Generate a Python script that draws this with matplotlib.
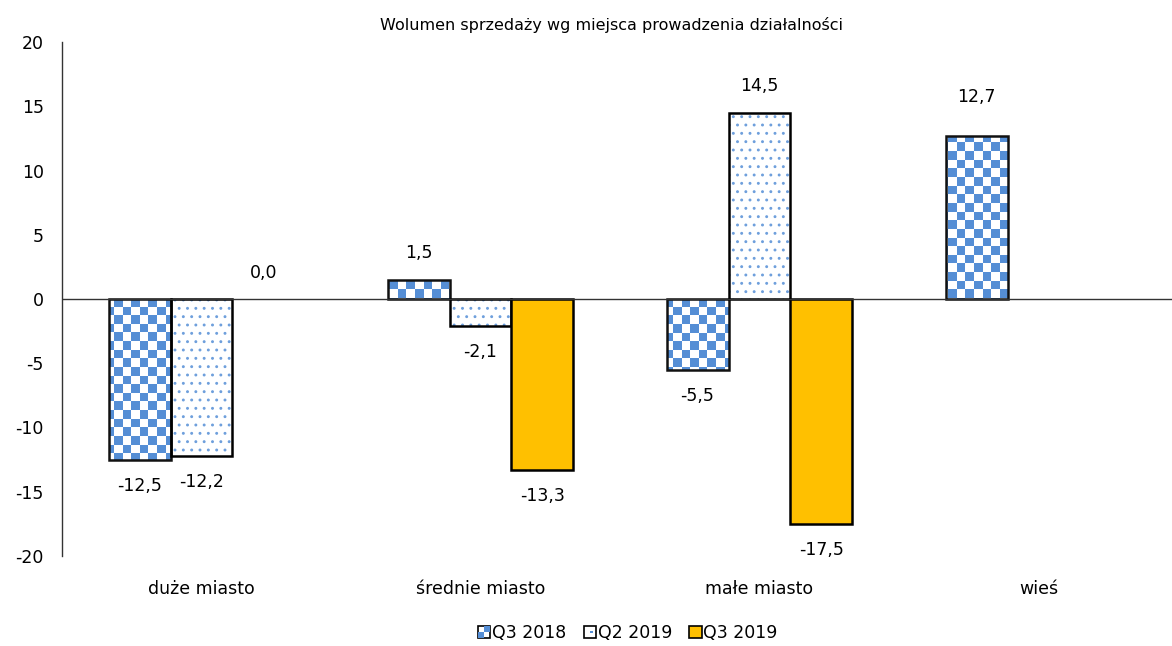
import numpy as np
import matplotlib
matplotlib.use("Agg")
import matplotlib.pyplot as plt
from matplotlib.patches import Patch, Rectangle
from matplotlib.legend_handler import HandlerBase

#######################################################
categories = ["duże miasto", "średnie miasto", "małe miasto", "wieś"]
series     = ["Q3 2018", "Q2 2019", "Q3 2019"]
q3_2018    = [-12.5, 1.5, -5.5, 12.7]
q2_2019    = [-12.2, -2.1, 14.5, None]
q3_2019    = [0.0, -13.3, -17.5, None]
#######################################################

BLUE = "#558ED5"
GOLD = "#FFC000"

W, H, DPI = 1172, 646, 100
fig = plt.figure(figsize=(W/DPI, H/DPI), dpi=DPI)
ax = fig.add_axes([62/W, (H-556)/H, (1178-62)/W, 514/H])

x = np.arange(len(categories))
bw = 0.222
ax.set_xlim(-0.5, len(categories)-0.5)
ax.set_ylim(-20, 20)

# pixel to data helpers for pattern cell size
px_x = (len(categories))/(1178-62)
px_y = 40/514
cell = 8.6

def checker_image(bar):
    nx = int(len(categories)/(cell*px_x)) + 2
    ny = int(40/(cell*px_y)) + 2
    board = (np.add.outer(np.arange(ny), np.arange(nx)) % 2).astype(float)
    cmap = matplotlib.colors.ListedColormap(["white", BLUE])
    x0, y0 = -0.5, -20
    im = ax.imshow(board, cmap=cmap, extent=(x0, x0+nx*cell*px_x, y0, y0+ny*cell*px_y),
                   origin="lower", aspect="auto", interpolation="nearest", zorder=2)
    im.set_clip_path(bar)

def fmt(v):
    return f"{v:.1f}".replace(".", ",")

def label(xc, v, off=18):
    off = off if v >= 0 else -off
    ax.annotate(fmt(v), (xc, v), xytext=(0, off), textcoords="offset points",
                ha="center", va="center", fontsize=12.5, color="#000000", zorder=5)

# Q3 2018 - checkerboard
for i, v in enumerate(q3_2018):
    if v is None:
        continue
    b = ax.bar(x[i]-bw, v, bw, facecolor="none", edgecolor="#111111", linewidth=1.8, zorder=3)[0]
    checker_image(b)
    # last label sits a bit higher in the original
    label(x[i]-bw, v, 28 if i == 3 else 19)

# Q2 2019 - dotted
plt.rcParams["hatch.linewidth"] = 0.9
for i, v in enumerate(q2_2019):
    if v is None:
        continue
    ax.bar(x[i], v, bw, facecolor="white", edgecolor="#6E9FDC", hatch="..", linewidth=0, zorder=2)
    ax.bar(x[i], v, bw, facecolor="none", edgecolor="black", linewidth=1.8, zorder=3)
    label(x[i], v, 19)

# Q3 2019 - gold
for i, v in enumerate(q3_2019):
    if v is None:
        continue
    ax.bar(x[i]+bw, v, bw, facecolor=GOLD, edgecolor="black", linewidth=1.8 if v else 0, zorder=3)
    label(x[i]+bw, v, 19)

ax.axhline(0, color="#333333", linewidth=1.0, zorder=4)

for s in ["top", "right", "bottom"]:
    ax.spines[s].set_visible(False)
ax.spines["left"].set_color("#333333")
ax.spines["left"].set_linewidth(1.0)

ax.set_yticks(np.arange(-20, 21, 5))
ax.set_yticklabels([str(t) for t in range(-20, 21, 5)])
ax.set_xticks(x)
ax.set_xticklabels(categories)
ax.tick_params(axis="y", length=0, pad=13, labelsize=12.5)
ax.tick_params(axis="x", length=0, pad=17, labelsize=12.5)

fig.text(612/W, (H-25)/H, "Wolumen sprzedaży wg miejsca prowadzenia działalności",
         ha="center", va="center", fontsize=11.5)

class CheckerHandler(HandlerBase):
    def create_artists(self, legend, orig, xd, yd, width, height, fontsize, trans):
        s = min(width, height)
        x0 = xd + (width - s)/2
        y0 = yd + (height - s)/2
        r1 = Rectangle((x0, y0), s, s, facecolor="white", edgecolor="black", lw=1.2, transform=trans)
        r2 = Rectangle((x0, y0), s/2, s/2, facecolor=BLUE, edgecolor="none", transform=trans)
        r3 = Rectangle((x0+s/2, y0+s/2), s/2, s/2, facecolor=BLUE, edgecolor="none", transform=trans)
        return [r1, r2, r3]

class SquareHandler(HandlerBase):
    def __init__(self, fc, dot=False):
        super().__init__()
        self.fc = fc
        self.dot = dot
    def create_artists(self, legend, orig, xd, yd, width, height, fontsize, trans):
        s = min(width, height)
        x0 = xd + (width - s)/2
        y0 = yd + (height - s)/2
        arts = [Rectangle((x0, y0), s, s, facecolor=self.fc, edgecolor="black", lw=1.2, transform=trans)]
        if self.dot:
            arts.append(Rectangle((x0+s*0.55, y0+s*0.4), s*0.2, s*0.2, facecolor=BLUE,
                                  edgecolor="none", transform=trans))
        return arts

h1, h2, h3 = Patch(label=series[0]), Patch(label=series[1]), Patch(label=series[2])
fig.legend([h1, h2, h3], series, loc="center", bbox_to_anchor=(628/W, 13/H),
           ncol=3, frameon=False, fontsize=12.5, handlelength=0.7, handleheight=0.7,
           handletextpad=0.1, columnspacing=1.0,
           handler_map={h1: CheckerHandler(), h2: SquareHandler("white", True),
                        h3: SquareHandler(GOLD)})

fig.savefig("out.png", dpi=DPI)
